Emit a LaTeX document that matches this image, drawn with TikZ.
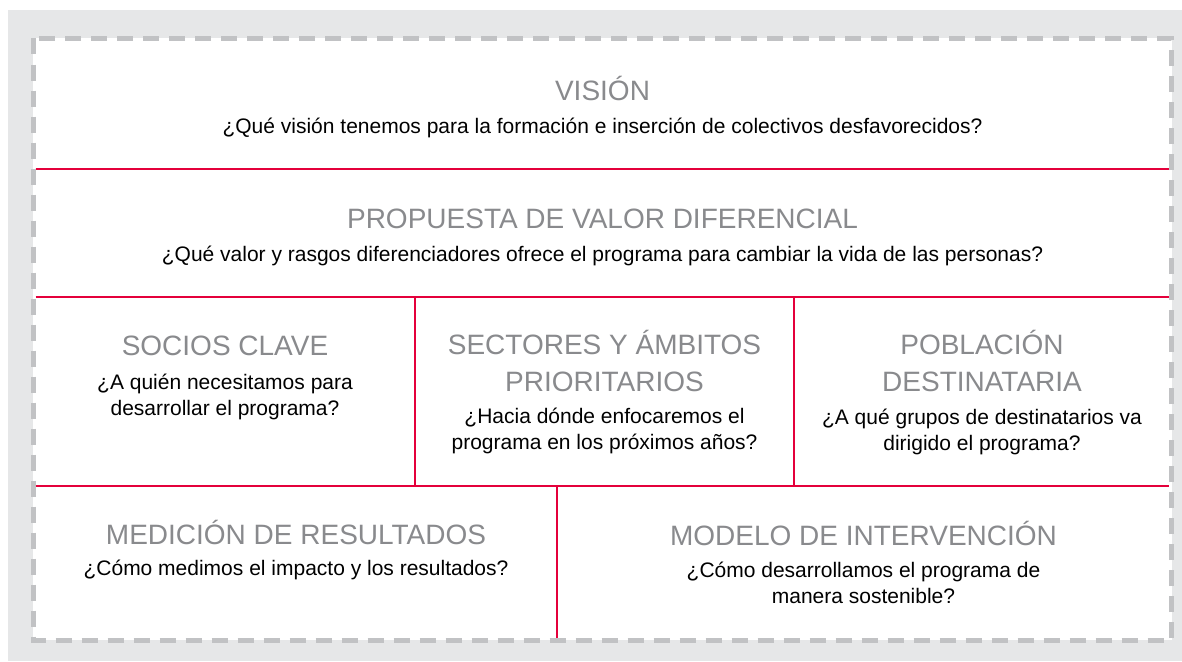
\documentclass[tikz,border=0pt]{standalone}
\usepackage{fontspec}
\setmainfont{Liberation Sans}
\usetikzlibrary{calc}
\definecolor{panelgray}{HTML}{E6E7E8}
\definecolor{dashgray}{HTML}{C1C2C4}
\definecolor{linered}{HTML}{E4003B}
\definecolor{headgray}{HTML}{898A8D}
\tikzset{
	headline/.style={font=\fontsize{28}{37}\selectfont, text=headgray, align=center, inner sep=0, anchor=base},
	question/.style={font=\fontsize{21}{26}\selectfont, text=black, align=center, inner sep=0, anchor=base},
	redline/.style={line width=2.2pt, color=linered}
}

\begin{document}
\begin{tikzpicture}[x=1pt, y=-1pt]
		%%%%% START %%%%%
		
		\useasboundingbox (0, 0) rectangle (1182, 661);
		\fill[white] (0, 0) rectangle (1182, 661);
		\fill[panelgray] (8, 10) rectangle (1182, 661);
		
		\fill[white] (33, 38.5) rectangle (1171.5, 640);
		\draw[line width=5pt, color=dashgray, dash pattern=on 16pt off 10pt] (33, 38.5) rectangle (1171.5, 640);
		
		\draw[redline] (35.5, 169) -- (1169, 169);
		\draw[redline] (35.5, 297) -- (1169, 297);
		\draw[redline] (35.5, 486) -- (1169, 486);
		\draw[redline] (415, 297) -- (415, 486);
		\draw[redline] (794, 297) -- (794, 486);
		\draw[redline] (557, 486) -- (557, 637.5);
		
		% base of a two-line node is its last line
		\node[headline] (vision) at (602.5, 100) {VISIÓN};
		\node[question] (visionq) at (602.5, 133) {¿Qué visión tenemos para la formación e inserción de colectivos desfavorecidos?};
		
		\node[headline] (valor) at (602.5, 228) {PROPUESTA DE VALOR DIFERENCIAL};
		\node[question] (valorq) at (602.5, 261) {¿Qué valor y rasgos diferenciadores ofrece el programa para cambiar la vida de las personas?};
		
		\node[headline] (socios) at (225, 355) {SOCIOS CLAVE};
		\node[question] (sociosq) at (225, 415) {¿A quién necesitamos para\\desarrollar el programa?};
		
		\node[headline] (sectores) at (604.5, 391) {SECTORES Y ÁMBITOS\\PRIORITARIOS};
		\node[question] (sectoresq) at (604.5, 449) {¿Hacia dónde enfocaremos el\\programa en los próximos años?};
		
		\node[headline] (poblacion) at (982, 391) {POBLACIÓN\\DESTINATARIA};
		\node[question] (poblacionq) at (982, 450) {¿A qué grupos de destinatarios va\\dirigido el programa?};
		
		\node[headline] (medicion) at (296, 544) {MEDICIÓN DE RESULTADOS};
		\node[question] (medicionq) at (296, 575) {¿Cómo medimos el impacto y los resultados?};
		
		\node[headline] (modelo) at (863.5, 545) {MODELO DE INTERVENCIÓN};
		\node[question] (modeloq) at (863.5, 603) {¿Cómo desarrollamos el programa de\\manera sostenible?};
		
		%%%%% END %%%%%
\end{tikzpicture}
\end{document}
